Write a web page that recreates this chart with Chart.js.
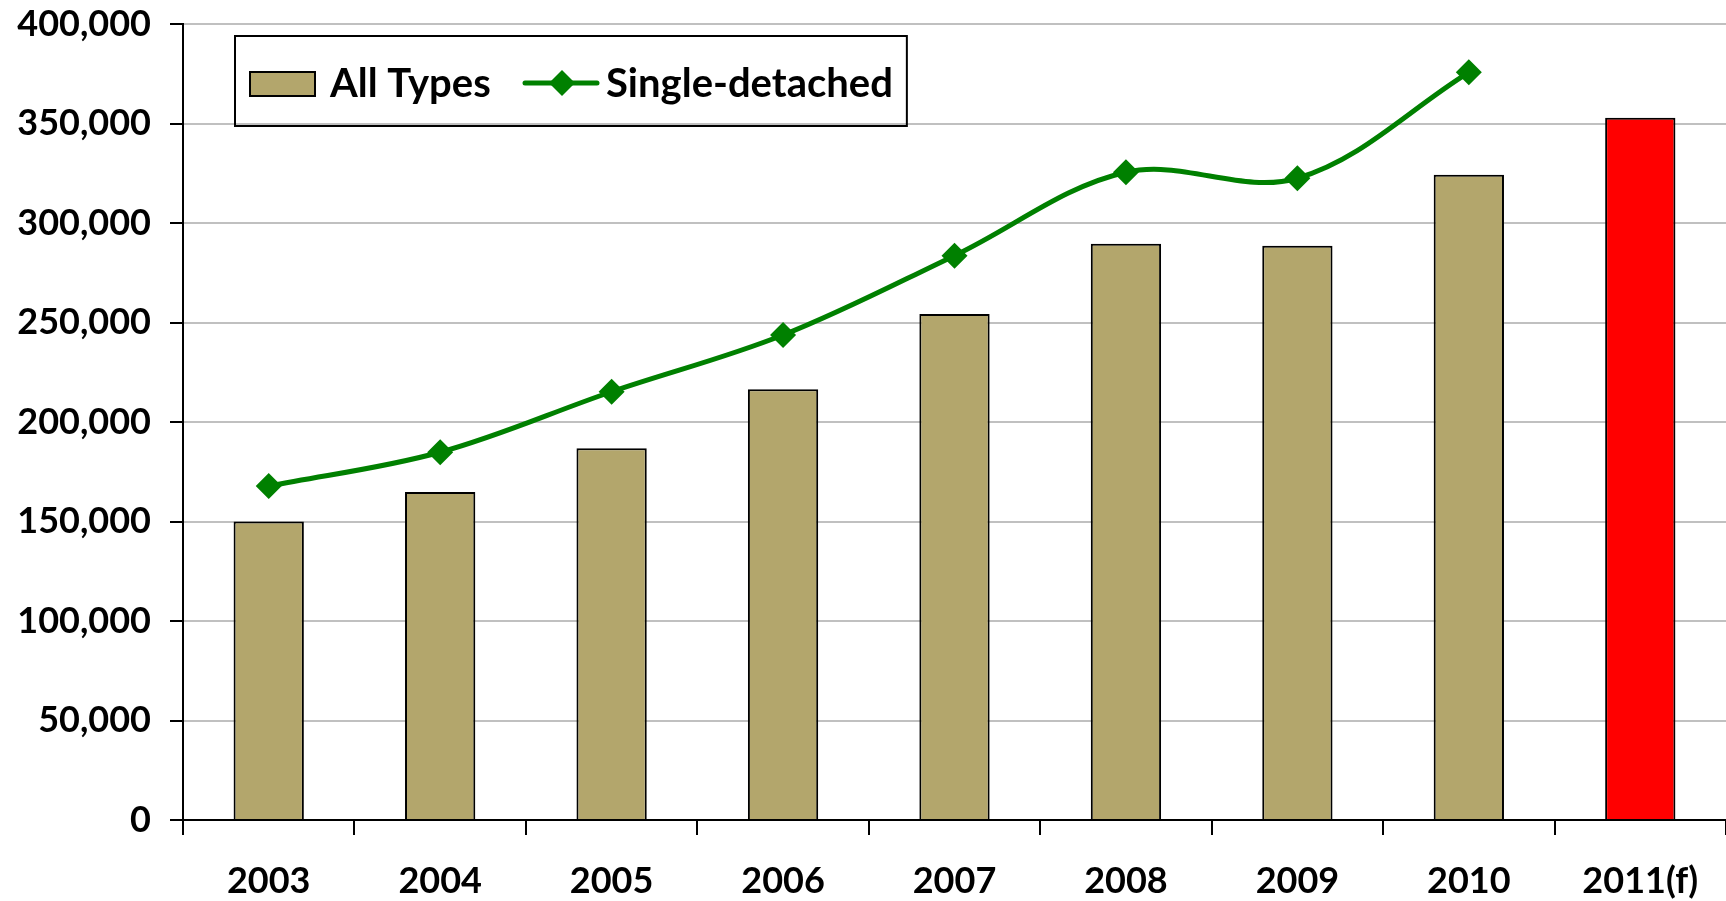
<html>
    <head>
		<meta http-equiv="content-type" content="text/html; charset=UTF-8" />
		<script src="https://cdn.jsdelivr.net/npm/chart.js@4.4.0/dist/chart.umd.min.js"></script>
		<style>
			body { margin: 0; background: #fff; }
			#wrap { width: 1726px; height: 901px; position: relative; }
		</style>
	</head>
    <body>
		<div id="wrap">
			<canvas id="starts"></canvas>
		</div>
		<script>
			// values
			var years = ['2003', '2004', '2005', '2006', '2007', '2008', '2009', '2010', '2011(f)'];
			var allTypes = [150000, 164800, 186800, 216400, 254300, 289600, 288600, 324300, 352900];
			var singleDetached = [167800, 184800, 215200, 243700, 283600, 325500, 322500, 375700];
			var yTicks = [0, 50000, 100000, 150000, 200000, 250000, 300000, 350000, 400000];

			var tan = '#B3A66C';
			var green = '#008000';
			// last bar is the forecast, drawn red
			var barColors = years.map(function(y) { return y.indexOf('(f)') > 0 ? '#FF0000' : tan; });

			Chart.defaults.font.family = 'Lato';
			Chart.defaults.font.weight = 'bold';
			Chart.defaults.font.size = 36;
			Chart.defaults.color = '#000';

			// legend with a black frame, sitting inside the plot
			var boxLegend = {
				id: 'boxLegend',
				afterDraw: function(chart) {
					var ctx = chart.ctx;
					var area = chart.chartArea;
					var ds = chart.data.datasets;
					ctx.save();
					ctx.font = 'bold 40px Lato';
					ctx.textBaseline = 'alphabetic';
					var left = area.left + 52;
					var top = area.top + 12;
					var base = area.top + 73;

					// bar swatch
					ctx.fillStyle = tan;
					ctx.fillRect(left + 15, area.top + 48, 65, 24);
					ctx.lineWidth = 2;
					ctx.strokeStyle = '#000';
					ctx.strokeRect(left + 15, area.top + 48, 65, 24);
					ctx.fillStyle = '#000';
					ctx.fillText(ds[0].label, left + 95, base);

					// line swatch with diamond
					var x = left + 290;
					var ly = area.top + 59;
					ctx.strokeStyle = green;
					ctx.lineWidth = 5;
					ctx.lineCap = 'round';
					ctx.beginPath();
					ctx.moveTo(x, ly);
					ctx.lineTo(x + 72, ly);
					ctx.stroke();
					ctx.fillStyle = green;
					ctx.beginPath();
					ctx.moveTo(x + 37, ly - 13);
					ctx.lineTo(x + 50, ly);
					ctx.lineTo(x + 37, ly + 13);
					ctx.lineTo(x + 24, ly);
					ctx.closePath();
					ctx.fill();
					x += 81;
					ctx.fillStyle = '#000';
					ctx.fillText(ds[1].label, x, base);
					x += ctx.measureText(ds[1].label).width + 14;

					ctx.lineWidth = 2;
					ctx.strokeStyle = '#000';
					ctx.strokeRect(left, top, x - left, 90);
					ctx.restore();
				}
			};

			var ctx = document.getElementById('starts');
			var chart = new Chart(ctx, {
				type: 'bar',
				data: {
					labels: years,
					datasets: [{
						label: 'All Types',
						data: allTypes,
						backgroundColor: barColors,
						borderColor: '#000',
						borderWidth: 2,
						barPercentage: 0.41,
						categoryPercentage: 1.0,
						order: 2
					}, {
						label: 'Single-detached',
						type: 'line',
						data: singleDetached,
						borderColor: green,
						backgroundColor: green,
						borderWidth: 5,
						tension: 0.35,
						pointStyle: 'rectRot',
						pointRadius: 13,
						pointBorderWidth: 0,
						pointBackgroundColor: green,
						order: 1
					}]
				},
				options: {
					responsive: true,
					maintainAspectRatio: false,
					animation: false,
					layout: { autoPadding: false, padding: { top: 24, left: 0, right: 0, bottom: 0 } },
					plugins: {
						legend: { display: false },
						tooltip: { enabled: false }
					},
					scales: {
						x: {
							offset: true,
							grid: {
								display: true,
								offset: true,
								drawOnChartArea: false,
								drawTicks: true,
								tickLength: 15,
								tickColor: '#000',
								lineWidth: 2
							},
							border: { color: '#000', width: 2 },
							ticks: { padding: 25, maxRotation: 0, autoSkip: false },
							afterFit: function(s) {
								s.height = 81;
								s.paddingLeft = 0;
								s.paddingRight = 0;
							}
						},
						y: {
							min: 0,
							max: 400000,
							afterBuildTicks: function(s) {
								s.ticks = yTicks.map(function(v) { return { value: v }; });
							},
							grid: {
								color: '#C0C0C0',
								lineWidth: 2,
								tickLength: 13,
								tickColor: '#000'
							},
							border: { color: '#000', width: 2 },
							ticks: {
								padding: 19,
								callback: function(v) { return v.toLocaleString('en-US'); }
							},
							afterFit: function(s) {
								s.width = 183;
								s.paddingTop = 0;
								s.paddingBottom = 0;
							}
						}
					}
				},
				plugins: [boxLegend]
			});
		</script>
    </body>
</html>
